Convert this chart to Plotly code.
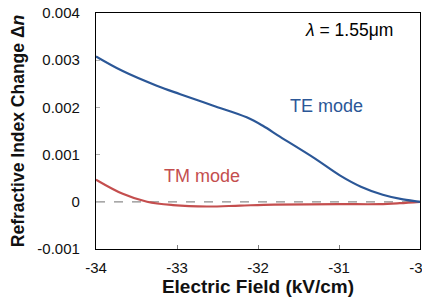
import plotly.graph_objects as go

te_field = [-34.0, -33.67, -33.25, -32.96, -32.56, -32.14, -31.94, -31.73, -31.3, -30.99, -30.73, -30.46, -30.21, -30.0]
te_dn = [0.00308, 0.00277, 0.00246, 0.00228, 0.00204, 0.00179, 0.00161, 0.00138, 0.00092, 0.00056, 0.00032, 0.00015, 0.00005, 0.0]

tm_field = [-34.0, -33.67, -33.37, -33.05, -32.63, -32.22, -31.8, -31.0, -30.5, -30.25, -30.0]
tm_dn = [0.00047, 0.00017, 0.0, -0.00007, -0.0001, -0.00008, -0.00006, -0.00005, -0.00005, -0.00003, 0.0]

x_ticks = [-34, -33, -32, -31, -30]
x_tick_labels = ["-34", "-33", "-32", "-31", "-30"]
y_ticks = [-0.001, 0, 0.001, 0.002, 0.003, 0.004]
y_tick_labels = ["-0.001", "0", "0.001", "0.002", "0.003", "0.004"]

TE_COLOR = "#2B5797"
TM_COLOR = "#C44E4E"
FONT = "Liberation Sans, Arial, sans-serif"

fig = go.Figure()
fig.add_trace(go.Scatter(x=[-34, -30], y=[0, 0], mode="lines",
                         line=dict(color="#8c8c8c", width=1.3, dash="dash"),
                         hoverinfo="skip", showlegend=False))
fig.add_trace(go.Scatter(x=tm_field, y=tm_dn, mode="lines", line_shape="spline",
                         line=dict(color=TM_COLOR, width=2.2), name="TM mode", showlegend=False))
fig.add_trace(go.Scatter(x=te_field, y=te_dn, mode="lines", line_shape="spline",
                         line=dict(color=TE_COLOR, width=2.2), name="TE mode", showlegend=False))

fig.update_layout(
    width=422, height=290,
    margin=dict(l=88, r=10, t=5, b=49),
    paper_bgcolor="white", plot_bgcolor="white",
    font=dict(family=FONT, size=15, color="#111111"),
    xaxis=dict(range=[-34, -30], tickvals=x_ticks, ticktext=x_tick_labels,
               ticks="inside", ticklen=4, automargin=False, ticklabeloverflow="allow",
               tickcolor="#808080", showline=True, linecolor="black", linewidth=1.3,
               mirror=True, showgrid=False, zeroline=False,
               tickfont=dict(size=15), ticklabelstandoff=5,
               title=dict(text="<b>Electric Field (kV/cm)</b>", font=dict(size=19), standoff=4)),
    yaxis=dict(range=[-0.001, 0.004], tickvals=y_ticks, ticktext=y_tick_labels,
               ticks="inside", ticklen=4, tickcolor="#b0b0b0", showline=True,
               automargin=False, ticklabeloverflow="allow",
               linecolor="black", linewidth=1.3, mirror=True, showgrid=False,
               zeroline=False, tickfont=dict(size=15), ticklabelstandoff=12,
               title=dict(text="<b>Refractive Index Change Δ<i>n</i></b>", font=dict(size=17.5), standoff=8)),
    annotations=[
        dict(x=-30.31, y=0.00364, xref="x", yref="y", text="<i>λ</i> = 1.55μm",
             showarrow=False, xanchor="right", yanchor="middle", font=dict(size=17.5, color="black")),
        dict(x=-31.15, y=0.00204, xref="x", yref="y", text="TE mode",
             showarrow=False, xanchor="center", yanchor="middle", font=dict(size=18, color=TE_COLOR)),
        dict(x=-32.69, y=0.00055, xref="x", yref="y", text="TM mode",
             showarrow=False, xanchor="center", yanchor="middle", font=dict(size=18, color=TM_COLOR)),
    ],
)

fig.write_html("out.html")
